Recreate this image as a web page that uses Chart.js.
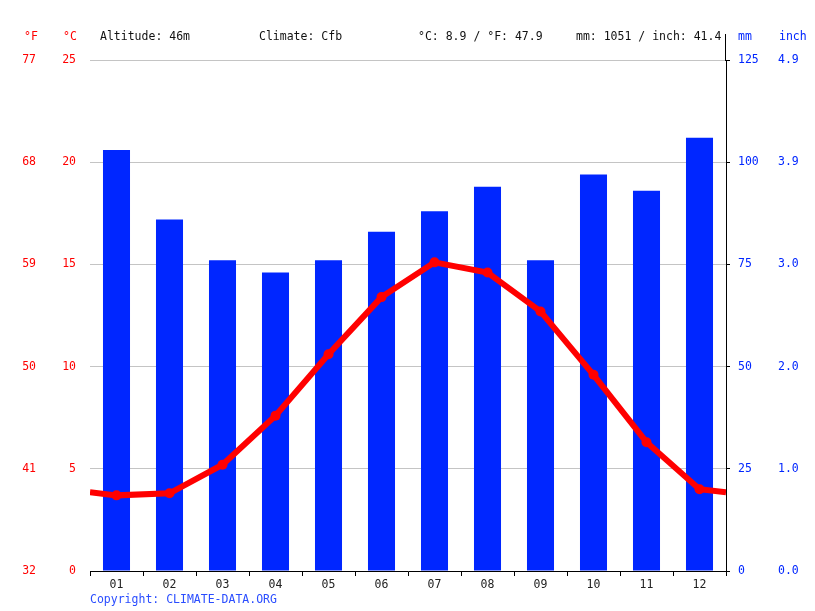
<!DOCTYPE html>
<html>
<head>
<meta charset="utf-8">
<script src="https://cdn.jsdelivr.net/npm/chart.js@4/dist/chart.umd.min.js"></script>
<style>
    body { margin: 0; background: #fff; }
    #wrap { position: relative; width: 815px; height: 611px; font-family: "DejaVu Sans Mono", monospace; font-size: 11.5px; }
    #wrap canvas { position: absolute; left: 0; top: 0; }
    .lbl { position: absolute; top: 29px; white-space: pre; line-height: 14px; }
    .red { color: #ff0000; }
    .blue { color: #0026ff; }
    .dark { color: #111; }
    #axisTop { position: absolute; left: 725px; top: 34px; width: 1px; height: 27px; background: #000; }
    #copy { position: absolute; left: 90px; top: 592px; color: #2a4dff; line-height: 14px; }
</style>
</head>
<body>
<div id="wrap">
    <canvas id="climateChart" width="815" height="611"></canvas>
    <div class="lbl red" style="left:24px">°F</div>
    <div class="lbl red" style="left:63px">°C</div>
    <div class="lbl dark" style="left:100px">Altitude: 46m</div>
    <div class="lbl dark" style="left:259px">Climate: Cfb</div>
    <div class="lbl dark" style="left:418px">°C: 8.9 / °F: 47.9</div>
    <div class="lbl dark" style="left:576px">mm: 1051 / inch: 41.4</div>
    <div class="lbl blue" style="left:738px">mm</div>
    <div class="lbl blue" style="left:779px">inch</div>
    <div id="axisTop"></div>
    <div id="copy">Copyright: CLIMATE-DATA.ORG</div>
</div>
<script>
// monthly values
const months = ['01', '02', '03', '04', '05', '06', '07', '08', '09', '10', '11', '12'];
const precipMm = [103, 86, 76, 73, 76, 83, 88, 94, 76, 97, 93, 106];
const tempC = [3.7, 3.8, 5.2, 7.6, 10.6, 13.4, 15.1, 14.6, 12.7, 9.6, 6.3, 4.0];

const red = '#ff0000';
const blue = '#0026ff';
const tickFont = { family: 'DejaVu Sans Mono', size: 11.5 };

// the temperature line runs out to both edges at the Dec/Jan average
const edgeTemp = (tempC[0] + tempC[tempC.length - 1]) / 2;
const linePoints = [{ x: 0.5, y: edgeTemp }]
    .concat(tempC.map((t, i) => ({ x: i + 1, y: t })))
    .concat([{ x: months.length + 0.5, y: edgeTemp }]);

function fixWidth(w) {
    return function(scale) { scale.width = w; };
}

new Chart(document.getElementById('climateChart').getContext('2d'), {
    data: {
        labels: months,
        datasets: [{
            type: 'line',
            data: linePoints,
            xAxisID: 'xLine',
            yAxisID: 'yC',
            borderColor: red,
            backgroundColor: red,
            borderWidth: 6,
            pointRadius: ctx => (ctx.dataIndex === 0 || ctx.dataIndex === linePoints.length - 1) ? 0 : 5,
            pointBackgroundColor: red,
            pointBorderWidth: 0,
            tension: 0,
            order: 0
        }, {
            type: 'bar',
            data: precipMm,
            xAxisID: 'x',
            yAxisID: 'yMm',
            backgroundColor: blue,
            grouped: false,
            barPercentage: 0.51,
            categoryPercentage: 1,
            order: 1
        }]
    },
    options: {
        responsive: false,
        animation: false,
        layout: { padding: { top: 60, left: 0, right: 0, bottom: 0 } },
        plugins: { legend: { display: false }, tooltip: { enabled: false } },
        scales: {
            x: {
                type: 'category',
                offset: true,
                grid: { offset: true, drawOnChartArea: false, drawTicks: true, tickLength: 5, color: '#000' },
                border: { display: true, color: '#000', width: 1 },
                ticks: { color: '#222', font: tickFont, padding: 2, maxRotation: 0 },
                afterFit: function(scale) { scale.height = 40; }
            },
            xLine: {
                type: 'linear',
                display: false,
                min: 0.5,
                max: months.length + 0.5
            },
            yC: {
                position: 'left',
                weight: 1,
                min: 0, max: 25,
                ticks: { stepSize: 5, color: red, font: tickFont, padding: 14 },
                grid: { color: '#c4c4c4', drawTicks: false, lineWidth: 1 },
                border: { display: false },
                afterFit: fixWidth(45)
            },
            yF: {
                position: 'left',
                weight: 2,
                min: 0, max: 25,
                ticks: { stepSize: 5, color: red, font: tickFont, padding: 9,
                    callback: v => String(Math.round(v * 9 / 5 + 32)) },
                grid: { display: false, drawTicks: false },
                border: { display: false },
                afterFit: fixWidth(45)
            },
            yMm: {
                position: 'right',
                weight: 1,
                min: 0, max: 125,
                ticks: { stepSize: 25, color: blue, font: tickFont, padding: 8 },
                grid: { drawOnChartArea: false, drawTicks: true, tickLength: 4, color: '#000' },
                border: { display: true, color: '#000', width: 1 },
                afterFit: fixWidth(46)
            },
            yIn: {
                position: 'right',
                weight: 2,
                min: 0, max: 125,
                ticks: { stepSize: 25, color: blue, font: tickFont, padding: 6,
                    callback: v => (v / 25.4).toFixed(1) },
                grid: { display: false, drawTicks: false },
                border: { display: false },
                afterFit: fixWidth(43)
            }
        }
    }
});
</script>
</body>
</html>
